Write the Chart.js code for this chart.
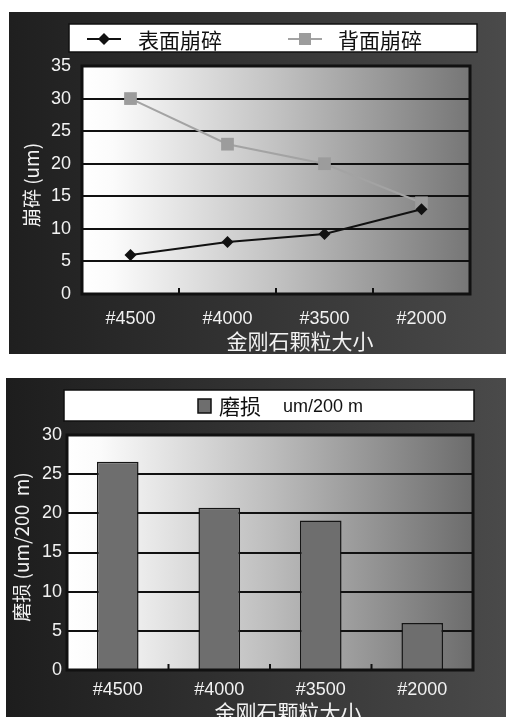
<!DOCTYPE html>
<html>
<head>
<meta charset="utf-8">
<script src="https://cdn.jsdelivr.net/npm/chart.js@4"></script>
<style>
  html, body { margin: 0; padding: 0; background: #fff; }
  body { width: 506px; height: 717px; position: relative; overflow: hidden; }
  canvas { position: absolute; }
  #chipChart { left: 9px; top: 12px; }
  #wearChart { left: 6px; top: 378px; }
</style>
</head>
<body>
<canvas id="chipChart" width="497" height="342"></canvas>
<canvas id="wearChart" width="500" height="339"></canvas>
<script>
// data
const categories = ['#4500', '#4000', '#3500', '#2000'];
const surfaceChip = [6, 8, 9.2, 13];     // 表面崩碎
const backChip = [30, 23, 20, 14];       // 背面崩碎
const wearRate = [26.6, 20.7, 19.1, 6];  // 磨损
const chipTicks = [0, 5, 10, 15, 20, 25, 30, 35];
const wearTicks = [0, 5, 10, 15, 20, 25, 30];

const LATIN = "'Liberation Sans', Arial, 'Noto Sans CJK SC', sans-serif";
const CJK = "'Noto Sans CJK SC', 'Liberation Sans', sans-serif";
const TEXT = '#f2f2f2';

function paintBack(chart, panel, plot) {
    const { ctx, width, height, chartArea: a } = chart;
    ctx.save();
    let g = ctx.createLinearGradient(0, 0, width, 0);
    g.addColorStop(0, panel[0]);
    g.addColorStop(1, panel[1]);
    ctx.fillStyle = g;
    ctx.fillRect(0, 0, width, height);
    g = ctx.createLinearGradient(a.left, 0, a.right, 0);
    plot.forEach(([p, c]) => g.addColorStop(p, c));
    ctx.fillStyle = g;
    ctx.fillRect(a.left, a.top, a.right - a.left, a.bottom - a.top);
    ctx.restore();
}

function legendBox(ctx, x1, y1, x2, y2) {
    ctx.save();
    ctx.fillStyle = '#fff';
    ctx.fillRect(x1, y1, x2 - x1, y2 - y1);
    ctx.strokeStyle = '#111';
    ctx.lineWidth = 1.5;
    ctx.strokeRect(x1, y1, x2 - x1, y2 - y1);
    ctx.restore();
}

function frame(chart) {
    const { ctx, chartArea: a } = chart;
    const x = chart.scales.x;
    ctx.save();
    ctx.strokeStyle = '#111';
    ctx.lineWidth = 3;
    ctx.strokeRect(a.left, a.top, a.right - a.left, a.bottom - a.top);
    // small inner ticks between categories
    ctx.lineWidth = 2;
    ctx.beginPath();
    for (let i = 1; i < categories.length; i++) {
        const px = (x.getPixelForValue(i - 1) + x.getPixelForValue(i)) / 2;
        ctx.moveTo(px, a.bottom);
        ctx.lineTo(px, a.bottom - 6);
    }
    ctx.stroke();
    ctx.restore();
}

function axisTitles(ctx, xTitle, xPos, yTitle, yPos) {
    ctx.save();
    ctx.fillStyle = TEXT;
    ctx.textAlign = 'center';
    ctx.textBaseline = 'middle';
    ctx.font = '21px ' + CJK;
    ctx.fillText(xTitle, xPos[0], xPos[1]);
    ctx.translate(yPos[0], yPos[1]);
    ctx.rotate(-Math.PI / 2);
    ctx.font = '19px ' + CJK;
    ctx.fillText(yTitle, 0, 0);
    ctx.restore();
}

function tickFont() {
    return { family: LATIN, size: 18 };
}

// ---------- top chart: chipping ----------
const chipPlugin = {
    id: 'chipDecor',
    beforeDraw(chart) {
        paintBack(chart, ['#1f1f1f', '#4a4a4a'],
            [[0, '#ffffff'], [0.08, '#fbfbfb'], [0.5, '#c2c2c2'], [1, '#767676']]);
        legendBox(chart.ctx, 60, 12, 468, 40);
    },
    afterDraw(chart) {
        const ctx = chart.ctx;
        frame(chart);
        axisTitles(ctx, '金刚石颗粒大小', [291, 329], '崩碎 (um)', [23, 173]);

        const lineX = [78, 279];
        const textX = [129, 329];
        const y = 27;
        chart.data.datasets.forEach((ds, i) => {
            ctx.save();
            ctx.strokeStyle = ds.borderColor;
            ctx.lineWidth = 2;
            ctx.beginPath();
            ctx.moveTo(lineX[i], y);
            ctx.lineTo(lineX[i] + 34, y);
            ctx.stroke();
            ctx.fillStyle = ds.backgroundColor;
            const cx = lineX[i] + 17;
            ctx.beginPath();
            if (ds.pointStyle === 'rectRot') {
                ctx.moveTo(cx - 6, y); ctx.lineTo(cx, y - 6);
                ctx.lineTo(cx + 6, y); ctx.lineTo(cx, y + 6);
                ctx.closePath();
            } else {
                ctx.rect(cx - 6, y - 6, 12, 12);
            }
            ctx.fill();
            ctx.fillStyle = '#111';
            ctx.font = '21px ' + CJK;
            ctx.textBaseline = 'middle';
            ctx.fillText(ds.label, textX[i], y + 1);
            ctx.restore();
        });
    }
};

new Chart(document.getElementById('chipChart'), {
    type: 'line',
    data: {
        labels: categories,
        datasets: [
            {
                label: '表面崩碎',
                data: surfaceChip,
                borderColor: '#111111',
                backgroundColor: '#111111',
                borderWidth: 2,
                pointStyle: 'rectRot',
                pointRadius: 6,
                pointBorderWidth: 0
            },
            {
                label: '背面崩碎',
                data: backChip,
                borderColor: '#a3a3a3',
                backgroundColor: '#9c9c9c',
                borderWidth: 2,
                pointStyle: 'rect',
                pointRadius: 9,
                pointBorderWidth: 0
            }
        ]
    },
    options: {
        responsive: false,
        animation: false,
        events: [],
        layout: { padding: { top: 54, right: 36, left: 0, bottom: 0 } },
        plugins: { legend: { display: false }, tooltip: { enabled: false } },
        scales: {
            x: {
                offset: true,
                grid: { display: false, drawTicks: false },
                border: { display: false },
                ticks: { color: TEXT, font: tickFont(), padding: 14 },
                afterFit: s => { s.height = 60; }
            },
            y: {
                min: chipTicks[0],
                max: chipTicks[chipTicks.length - 1],
                ticks: { stepSize: chipTicks[1] - chipTicks[0], color: TEXT, font: tickFont(), padding: 11 },
                grid: { color: '#111', lineWidth: 2, drawTicks: false },
                border: { display: false },
                afterFit: s => { s.width = 73; }
            }
        }
    },
    plugins: [chipPlugin]
});

// ---------- bottom chart: wear ----------
const wearUnit = 'um/200 m';
const wearPlugin = {
    id: 'wearDecor',
    beforeDraw(chart) {
        paintBack(chart, ['#1d1d1d', '#4a4a4a'],
            [[0, '#ffffff'], [0.08, '#fbfbfb'], [0.5, '#bdbdbd'], [1, '#6c6c6c']]);
        legendBox(chart.ctx, 58, 12, 468, 43);
    },
    afterDraw(chart) {
        const ctx = chart.ctx;
        frame(chart);
        axisTitles(ctx, '金刚石颗粒大小', [282, 334], '磨损 (um/200  m)', [16, 169]);

        const ds = chart.data.datasets[0];
        ctx.save();
        ctx.fillStyle = ds.backgroundColor;
        ctx.fillRect(192, 21, 13, 14);
        ctx.strokeStyle = '#111';
        ctx.lineWidth = 1.5;
        ctx.strokeRect(192, 21, 13, 14);
        ctx.fillStyle = '#111';
        ctx.textBaseline = 'middle';
        ctx.font = '21px ' + CJK;
        ctx.fillText(ds.label, 213, 28);
        ctx.font = '18px ' + LATIN;
        ctx.fillText(wearUnit, 277, 29);
        ctx.restore();
    }
};

new Chart(document.getElementById('wearChart'), {
    type: 'bar',
    data: {
        labels: categories,
        datasets: [{
            label: '磨损',
            data: wearRate,
            backgroundColor: '#6e6e6e',
            borderColor: '#151515',
            borderWidth: 1.5,
            barPercentage: 0.41,
            categoryPercentage: 1
        }]
    },
    options: {
        responsive: false,
        animation: false,
        events: [],
        layout: { padding: { top: 57, right: 33, left: 0, bottom: 0 } },
        plugins: { legend: { display: false }, tooltip: { enabled: false } },
        scales: {
            x: {
                grid: { display: false, drawTicks: false },
                border: { display: false },
                ticks: { color: TEXT, font: tickFont(), padding: 9 },
                afterFit: s => { s.height = 47; }
            },
            y: {
                min: wearTicks[0],
                max: wearTicks[wearTicks.length - 1],
                ticks: { stepSize: wearTicks[1] - wearTicks[0], color: TEXT, font: tickFont(), padding: 5 },
                grid: { color: '#111', lineWidth: 2, drawTicks: false },
                border: { display: false },
                afterFit: s => { s.width = 61; }
            }
        }
    },
    plugins: [wearPlugin]
});
</script>
</body>
</html>
